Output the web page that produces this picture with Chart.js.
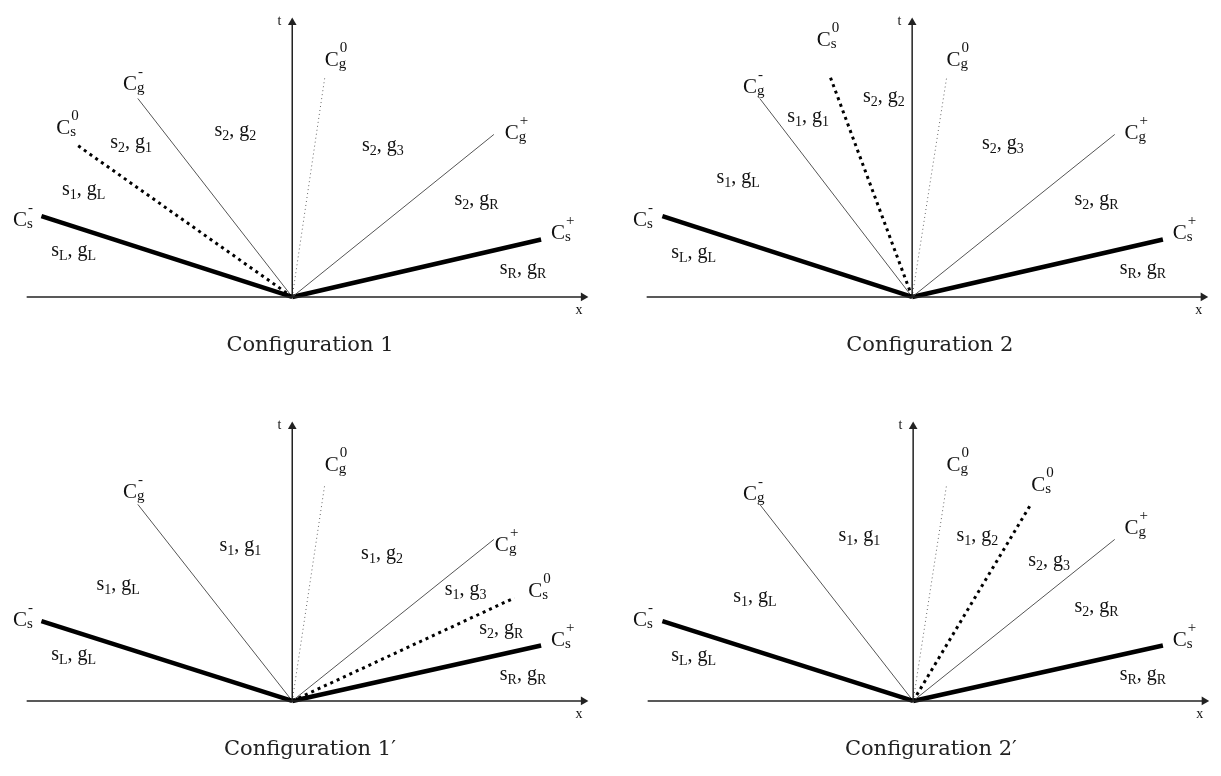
<!DOCTYPE html>
<html>
<head>
<meta charset="utf-8">
<script src="https://cdn.jsdelivr.net/npm/chart.js@4.4.1/dist/chart.umd.min.js"></script>
<style>
  body { margin: 0; background: #fff; width: 1221px; height: 776px; position: relative; overflow: hidden; }
  canvas { position: absolute; }
</style>
</head>
<body>
<canvas id="c0" width="610" height="370" style="left:2px;top:2px"></canvas>
<canvas id="c1" width="599" height="370" style="left:622px;top:2px"></canvas>
<canvas id="c2" width="610" height="370" style="left:2px;top:406px"></canvas>
<canvas id="c3" width="598" height="370" style="left:623px;top:406px"></canvas>
<script>
// Four wave configurations in the (x, t) plane, origin at (0, 0)
const configNames = ['Configuration 1', 'Configuration 2', 'Configuration 1\u2032', 'Configuration 2\u2032'];

// ray names (sub/superscript markup) and end points per configuration
const rayText = ['C_s^-', 'C_g^-', 'C_s^0', 'C_g^0', 'C_g^+', 'C_s^+'];
const raysCsMinus = [[-255, 83], [-254, 83], [-255, 82], [-255, 82]];
const raysCgMinus = [[-157, 204], [-155, 204], [-157, 202], [-156, 202]];
const raysCs0 = [[-220, 157], [-84, 228], [226, 106], [119, 201]];
const raysCg0 = [[33, 225], [35, 225], [33, 222], [34, 222]];
const raysCgPlus = [[205, 167], [206, 167], [205, 166], [205, 166]];
const raysCsPlus = [[253, 59], [255, 59], [253, 57], [254, 57]];

// where each ray name sits (left, baseline)
const rayLabelAt = [
  [[-284, 73], [-172, 213], [-240, 167], [33, 237], [216, 162], [263, 60]],
  [[-284, 73], [-172, 210], [-97, 258], [35, 237], [216, 162], [265, 60]],
  [[-284, 77], [-172, 209], [240, 107], [33, 236], [206, 154], [263, 56]],
  [[-285, 77], [-173, 207], [120, 216], [34, 236], [215, 172], [264, 56]]
];

// state labels in each wedge
const regionText = [
  ['s_L, g_L', 's_1, g_L', 's_2, g_1', 's_2, g_2', 's_2, g_3', 's_2, g_R', 's_R, g_R'],
  ['s_L, g_L', 's_1, g_L', 's_1, g_1', 's_2, g_2', 's_2, g_3', 's_2, g_R', 's_R, g_R'],
  ['s_L, g_L', 's_1, g_L', 's_1, g_1', 's_1, g_2', 's_1, g_3', 's_2, g_R', 's_R, g_R'],
  ['s_L, g_L', 's_1, g_L', 's_1, g_1', 's_1, g_2', 's_2, g_3', 's_2, g_R', 's_R, g_R']
];
const regionAt = [
  [[-245, 42], [-234, 105], [-185, 153], [-79, 165], [71, 150], [165, 95], [211, 24]],
  [[-245, 40], [-199, 117], [-127, 180], [-50, 200], [71, 152], [165, 95], [211, 24]],
  [[-245, 42], [-199, 114], [-74, 154], [70, 146], [155, 109], [190, 69], [211, 22]],
  [[-246, 41], [-183, 102], [-76, 164], [44, 164], [117, 139], [164, 91], [210, 22]]
];

const xAxisFrom = -270, xAxisTo = 296, tAxisTo = 282;

const allRays = [raysCsMinus, raysCgMinus, raysCs0, raysCg0, raysCgPlus, raysCsPlus];
const rayStyles = [
  { borderColor: '#000', borderWidth: 4.5 },
  { borderColor: '#555', borderWidth: 1 },
  { borderColor: '#000', borderWidth: 3, borderDash: [3, 4] },
  { borderColor: '#666', borderWidth: 1, borderDash: [1, 3] },
  { borderColor: '#555', borderWidth: 1 },
  { borderColor: '#000', borderWidth: 4.5 }
];

const SERIF = '"Liberation Serif", "Times New Roman", serif';

function drawRich(ctx, str, x, y, size, small, subDy, supDy) {
  let cx = x, i = 0;
  while (i < str.length) {
    if (str[i] === '_' || str[i] === '^') {
      let sub = '', sup = '';
      while (str[i] === '_' || str[i] === '^') {
        if (str[i] === '_') sub = str[i + 1]; else sup = str[i + 1];
        i += 2;
      }
      ctx.font = small + 'px ' + SERIF;
      let w = 0;
      if (sub) { ctx.fillText(sub, cx, y + subDy); w = ctx.measureText(sub).width; }
      if (sup) { ctx.fillText(sup, cx + 1, y - supDy); w = Math.max(w, ctx.measureText(sup).width + 1); }
      cx += w;
    } else {
      ctx.font = size + 'px ' + SERIF;
      ctx.fillText(str[i], cx, y);
      cx += ctx.measureText(str[i]).width;
      i++;
    }
  }
}

const labelPlugin = {
  id: 'waveLabels',
  afterDatasetsDraw(chart, args, opts) {
    const ctx = chart.ctx, sx = chart.scales.x, sy = chart.scales.y;
    const k = opts.config;
    ctx.save();
    ctx.fillStyle = '#111';
    ctx.textBaseline = 'alphabetic';
    ctx.textAlign = 'left';
    rayText.forEach((txt, j) => {
      const p = rayLabelAt[k][j];
      drawRich(ctx, txt, sx.getPixelForValue(p[0]), sy.getPixelForValue(p[1]), 21, 15, 2, 14);
    });
    regionText[k].forEach((txt, j) => {
      const p = regionAt[k][j];
      drawRich(ctx, txt, sx.getPixelForValue(p[0]), sy.getPixelForValue(p[1]), 20, 14, 4, 0);
    });
    // axis names
    ctx.font = '14px ' + SERIF;
    ctx.fillText('t', sx.getPixelForValue(-15), sy.getPixelForValue(280));
    ctx.fillText('x', sx.getPixelForValue(288), sy.getPixelForValue(-18));
    // caption
    ctx.font = '21px "DejaVu Serif", serif';
    ctx.fillStyle = '#222';
    ctx.textAlign = 'center';
    ctx.fillText(configNames[k], sx.getPixelForValue(18), sy.getPixelForValue(0) + 54);
    ctx.restore();
  }
};

function buildChart(id, k, xMax) {
  const datasets = [
    {
      data: [{ x: xAxisFrom, y: 0 }, { x: xAxisTo, y: 0 }],
      borderColor: '#222', borderWidth: 1.5,
      pointRadius: [0, 5], pointStyle: 'triangle', pointRotation: 90,
      pointBackgroundColor: '#222', pointBorderColor: '#222', pointBorderWidth: 0
    },
    {
      data: [{ x: 0, y: 0 }, { x: 0, y: tAxisTo }],
      borderColor: '#222', borderWidth: 1.5,
      pointRadius: [0, 5], pointStyle: 'triangle', pointRotation: 0,
      pointBackgroundColor: '#222', pointBorderColor: '#222', pointBorderWidth: 0
    }
  ];
  allRays.forEach((ray, j) => {
    datasets.push(Object.assign({
      data: [{ x: 0, y: 0 }, { x: ray[k][0], y: ray[k][1] }],
      pointRadius: 0
    }, rayStyles[j]));
  });

  return new Chart(document.getElementById(id), {
    type: 'scatter',
    data: { datasets: datasets },
    options: {
      responsive: false,
      animation: false,
      showLine: true,
      layout: { padding: 0 },
      scales: {
        x: { type: 'linear', min: -290, max: xMax, display: false },
        y: { type: 'linear', min: -72, max: 298, display: false }
      },
      plugins: {
        legend: { display: false },
        tooltip: { enabled: false },
        waveLabels: { config: k }
      }
    },
    plugins: [labelPlugin]
  });
}

buildChart('c0', 0, 320);
buildChart('c1', 1, 309);
buildChart('c2', 2, 320);
buildChart('c3', 3, 308);
</script>
</body>
</html>
